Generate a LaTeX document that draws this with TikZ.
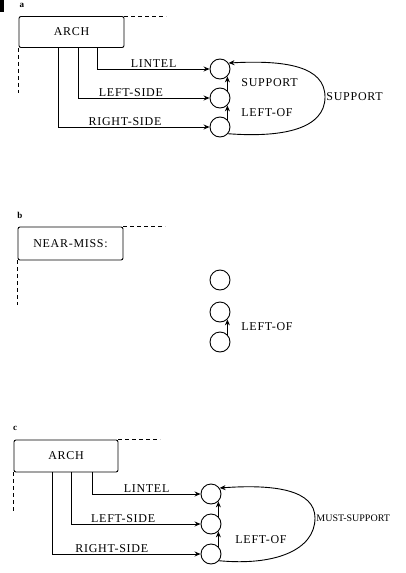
\documentclass[tikz,border=0pt]{standalone}
\usepackage{fontspec}
\newfontfamily\netfont[LetterSpace=6]{Liberation Serif}
\newfontfamily\tagfont{Liberation Serif}
\usetikzlibrary{arrows.meta}
\begin{document}
\begin{tikzpicture}[x=1pt,y=-1pt,line width=0.9pt,
  lbl/.style={font=\netfont\fontsize{12}{12}\selectfont,inner sep=1pt},
  tag/.style={font=\tagfont\bfseries\fontsize{9}{9}\selectfont,inner sep=0pt},
  descbox/.style={draw,rounded corners=2pt,minimum width=105pt,minimum height=31pt,
    inner sep=0pt,font=\netfont\fontsize{12}{12}\selectfont},
  obj/.style={draw,circle,minimum size=20pt,inner sep=0pt},
  frame/.style={dash pattern=on 4pt off 3pt},
  link/.style={-{Stealth[length=6pt,width=5pt]}}]
  \useasboundingbox (0,0) rectangle (406,573);
  \fill (0,0) rectangle (4,12);

  % a: the arch
  \node[tag] (taga) at (22,5) {a};
  \node[descbox] (archA) at (71.5,32) {ARCH};
  \draw[frame] (archA.north east) -- ++(42,0);
  \draw[frame] (archA.south west) -- ++(0,45);
  \node[obj] (a1) at (220,69) {};
  \node[obj] (a2) at (220,98) {};
  \node[obj] (a3) at (220,127) {};
  \draw[link] (archA.south west) ++(79,0) |- (a1) node[lbl,pos=0.75,above] {LINTEL};
  \draw[link] (archA.south west) ++(60,0) |- (a2) node[lbl,pos=0.7,above] {LEFT-SIDE};
  \draw[link] (archA.south west) ++(40,0) |- (a3) node[lbl,pos=0.72,above] {RIGHT-SIDE};
  \draw[link] (a2.45) -- (a1.-45);
  \draw[link] (a3.45) -- (a2.-45);
  \node[lbl,anchor=west] (supa) at (240,83) {SUPPORT};
  \node[lbl,anchor=west] (lofa) at (240,113) {LEFT-OF};
  \draw[link] (a3.-40) .. controls (285,138) and (325,128) .. (325,97) coordinate (turna)
    .. controls (325,66) and (285,60) .. (a1.35);
  \node[lbl,anchor=west] (msupa) at (turna) {SUPPORT};

  % b: the near miss
  \node[tag] (tagb) at (20,215) {b};
  \node[descbox,minimum height=33pt] (nmiss) at (70.5,243.5) {NEAR-MISS:};
  \draw[frame] (nmiss.north east) -- ++(42,0);
  \draw[frame] (nmiss.south west) -- ++(0,45);
  \node[obj] (b1) at (220,280) {};
  \node[obj] (b2) at (220,312) {};
  \node[obj] (b3) at (220,342) {};
  \draw[link] (b3.45) -- (b2.-45);
  \node[lbl,anchor=west] (lofb) at (240,327) {LEFT-OF};

  % c: the refined arch
  \node[tag] (tagc) at (15,428) {c};
  \node[descbox,minimum width=104pt,minimum height=32pt] (archC) at (66,456) {ARCH};
  \draw[frame] (archC.north east) -- ++(42,0);
  \draw[frame] (archC.south west) -- ++(0,40);
  \node[obj] (c1) at (211,494) {};
  \node[obj] (c2) at (211,524) {};
  \node[obj] (c3) at (211,554) {};
  \draw[link] (archC.south west) ++(79,0) |- (c1) node[lbl,pos=0.75,above] {LINTEL};
  \draw[link] (archC.south west) ++(58,0) |- (c2) node[lbl,pos=0.7,above] {LEFT-SIDE};
  \draw[link] (archC.south west) ++(39,0) |- (c3) node[lbl,pos=0.7,above] {RIGHT-SIDE};
  \draw[link] (c2.45) -- (c1.-45);
  \draw[link] (c3.45) -- (c2.-45);
  \node[lbl,anchor=west] (lofc) at (234,540) {LEFT-OF};
  \draw[link] (c3.-40) .. controls (275,566) and (315,550) .. (315,518) coordinate (turnc)
    .. controls (315,490) and (275,484) .. (c1.35);
  \node[anchor=west,inner sep=1pt,font=\tagfont\fontsize{10}{10}\selectfont] (msupc)
    at (turnc) {MUST-SUPPORT};
\end{tikzpicture}
\end{document}
